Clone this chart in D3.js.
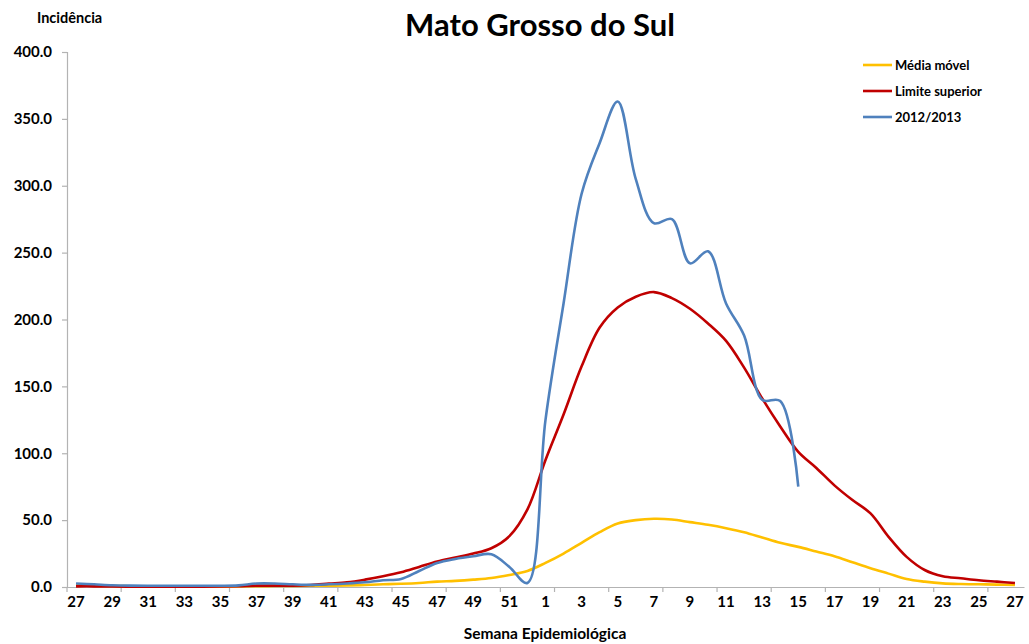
<!DOCTYPE html>
<html>
<head>
<meta charset="utf-8">
<script src="https://cdn.jsdelivr.net/npm/d3@7"></script>
<style>
  body { margin: 0; background: #fff; }
  text { font-family: Lato, "Open Sans", sans-serif; font-weight: bold; fill: #000; }
</style>
</head>
<body>
<svg width="1029" height="644"></svg>
<script>
// weeks 27..52 of 2012, then 1..27 of 2013
var weeks = d3.range(27, 53).concat(d3.range(1, 28));

// Média móvel
var mediaMovel = [1.5, 1, 0.8, 0.6, 0.5, 0.5, 0.5, 0.5, 0.5, 0.5,
  0.6, 0.7, 0.8, 0.9, 1, 1.2, 1.5, 2, 2.4, 3,
  4, 4.6, 5.5, 6.7, 9, 12,
  18, 25, 33, 41, 47.5, 50, 51, 50.5, 48.5, 46.5,
  44, 41, 37, 33, 30, 26.5, 23, 18.5, 14, 10,
  6, 4, 2.7, 2.2, 2, 1.8, 1.5];

// Limite superior
var limiteSuperior = [0.5, 0.5, 0.4, 0.3, 0.3, 0.3, 0.3, 0.3, 0.4, 0.6,
  1, 1, 1, 1.5, 2.5, 3.5, 5.5, 8, 11, 15,
  19, 22, 25, 29, 38, 58,
  95, 129, 165, 194, 209, 217, 220.5, 216, 208, 197,
  184, 164, 141, 120, 101, 89, 76, 65, 55, 37.5,
  22.5, 12.7, 8, 6.5, 5, 4, 3];

// 2012/2013 (ends at week 15)
var serie2012 = [2.6, 2, 1.3, 1, 0.9, 0.9, 0.9, 0.9, 0.9, 1.2,
  2.6, 2.6, 2, 1.6, 2, 2.6, 3.5, 5, 6, 12,
  18, 21, 23, 24.5, 15, 3,
  125, 212, 294, 332, 363, 305, 272, 275, 242, 251,
  212, 188, 140, 139, 75];

var yTicks = [0, 50, 100, 150, 200, 250, 300, 350, 400];

var svg = d3.select("svg");
var plotLeft = 67, plotRight = 1024, plotTop = 52, plotBottom = 587;

var x = d3.scaleBand()
    .domain(d3.range(weeks.length))
    .range([plotLeft, plotRight]);

var y = d3.scaleLinear()
    .domain([0, 400])
    .range([plotBottom, plotTop]);

var cx = function(i) { return x(i) + x.bandwidth() / 2; };

// title
svg.append("text")
    .attr("x", 540)
    .attr("y", 36)
    .attr("text-anchor", "middle")
    .style("font-size", "31px")
    .text("Mato Grosso do Sul");

svg.append("text")
    .attr("x", 37)
    .attr("y", 23)
    .style("font-size", "14.5px")
    .text("Incidência");

svg.append("text")
    .attr("x", 545)
    .attr("y", 639)
    .attr("text-anchor", "middle")
    .style("font-size", "15.5px")
    .text("Semana Epidemiológica");

// y axis
var yAxis = svg.append("g")
    .attr("transform", "translate(" + plotLeft + ",0)")
    .call(d3.axisLeft(y)
      .tickValues(yTicks)
      .tickSize(5)
      .tickPadding(10)
      .tickFormat(d3.format(".1f")));
yAxis.selectAll("text").style("font-size", "15px");

// x axis: ticks every 3 categories, labels every 2
var xAxis = svg.append("g")
    .attr("transform", "translate(0," + plotBottom + ")")
    .call(d3.axisBottom(x)
      .tickSize(0)
      .tickPadding(9)
      .tickValues(d3.range(0, weeks.length, 2))
      .tickFormat(function(i) { return weeks[i]; }));
xAxis.selectAll("text").style("font-size", "15px");
xAxis.selectAll(".gridtick")
    .data(d3.range(0, weeks.length + 1, 3))
    .enter().append("line")
    .attr("x1", function(i) { return plotLeft + i * x.step(); })
    .attr("x2", function(i) { return plotLeft + i * x.step(); })
    .attr("y1", 0)
    .attr("y2", 5);

svg.selectAll(".domain, .tick line, g line")
    .attr("stroke", "#b3b3b3")
    .attr("stroke-width", 1.2);

// lines
var line = d3.line()
    .x(function(d, i) { return cx(i); })
    .y(function(d) { return y(d); })
    .curve(d3.curveCatmullRom.alpha(0.5));

var series = [
  { name: "Média móvel", values: mediaMovel, color: "#FFC000" },
  { name: "Limite superior", values: limiteSuperior, color: "#C00000" },
  { name: "2012/2013", values: serie2012, color: "#4F81BD" }
];

svg.append("g")
  .selectAll("path")
  .data(series)
  .enter().append("path")
    .attr("fill", "none")
    .attr("stroke", function(d) { return d.color; })
    .attr("stroke-width", 2.6)
    .attr("d", function(d) { return line(d.values); });

// legend
var legend = svg.append("g")
  .selectAll("g")
  .data(series)
  .enter().append("g")
    .attr("transform", function(d, i) { return "translate(863," + (65 + i * 26) + ")"; });

legend.append("line")
    .attr("x1", 0).attr("x2", 29)
    .attr("stroke", function(d) { return d.color; })
    .attr("stroke-width", 2.6);

legend.append("text")
    .attr("x", 32)
    .attr("y", 4.5)
    .style("font-size", "13px")
    .text(function(d) { return d.name; });
</script>
</body>
</html>
